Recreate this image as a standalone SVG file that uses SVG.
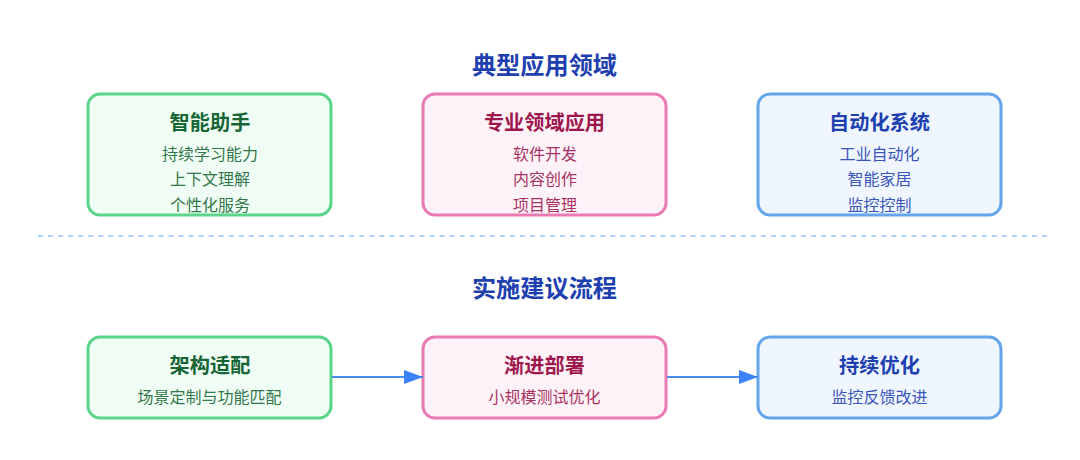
<svg xmlns="http://www.w3.org/2000/svg" width="1080" height="460" viewBox="0 0 1080 460">
<style>
text{font-family:"Liberation Sans","Noto Sans CJK SC",sans-serif;text-anchor:middle}
.h{font-size:24.2px;font-weight:700;fill:#1e40af}
.t{font-size:20.2px;font-weight:700}
.s{font-size:16px;opacity:.88}
.box{stroke-width:3}
.g rect{fill:#f0fdf4;stroke:#5bd58a}.g text{fill:#166534}
.p rect{fill:#fdf2f8;stroke:#ea7ab4}.p text{fill:#9d174d}
.b rect{fill:#eff6ff;stroke:#65a5ec}.b text{fill:#1e40af}
.c{stroke:#4a8aea;stroke-width:2;fill:none;marker-end:url(#a)}
</style>
<defs><marker id="a" markerUnits="userSpaceOnUse" markerWidth="20" markerHeight="14" refX="19" refY="7" orient="auto"><path d="M0 0L19 7L0 14Z" fill="#3b82f6"/></marker></defs>
<rect width="1080" height="460" fill="#fff"/>
<text class="h" x="544.5" y="73.5">典型应用领域</text>
<g id="n1" class="g"><rect class="box" x="88" y="94" width="243" height="121" rx="12"/><text class="t" x="210" y="129.5">智能助手</text><text class="s" x="210" y="160">持续学习能力</text><text class="s" x="210" y="185">上下文理解</text><text class="s" x="210" y="210.5">个性化服务</text></g>
<g id="n2" class="p"><rect class="box" x="423" y="94" width="243" height="121" rx="12"/><text class="t" x="544.5" y="129.5">专业领域应用</text><text class="s" x="545" y="160">软件开发</text><text class="s" x="545" y="185">内容创作</text><text class="s" x="545" y="210.5">项目管理</text></g>
<g id="n3" class="b"><rect class="box" x="758" y="94" width="243" height="121" rx="12"/><text class="t" x="879.5" y="129.5">自动化系统</text><text class="s" x="879.5" y="160">工业自动化</text><text class="s" x="879.5" y="185">智能家居</text><text class="s" x="879.5" y="210.5">监控控制</text></g>
<line x1="38" y1="236" x2="1047" y2="236" stroke="#93c5fd" stroke-width="1.5" stroke-dasharray="5 5.04"/>
<text class="h" x="544.5" y="296.5">实施建议流程</text>
<g id="n4" class="g"><rect class="box" x="88" y="337" width="243" height="81" rx="12"/><text class="t" x="210" y="372.5">架构适配</text><text class="s" x="209.5" y="402.5">场景定制与功能匹配</text></g>
<g id="n5" class="p"><rect class="box" x="423" y="337" width="243" height="81" rx="12"/><text class="t" x="544.5" y="372.5">渐进部署</text><text class="s" x="544.5" y="402.5">小规模测试优化</text></g>
<g id="n6" class="b"><rect class="box" x="758" y="337" width="243" height="81" rx="12"/><text class="t" x="879.5" y="372.5">持续优化</text><text class="s" x="879.5" y="402.5">监控反馈改进</text></g>
<g id="connectors"><line class="c" x1="332" y1="377" x2="423" y2="377"/><line class="c" x1="667" y1="377" x2="758" y2="377"/></g>
</svg>
